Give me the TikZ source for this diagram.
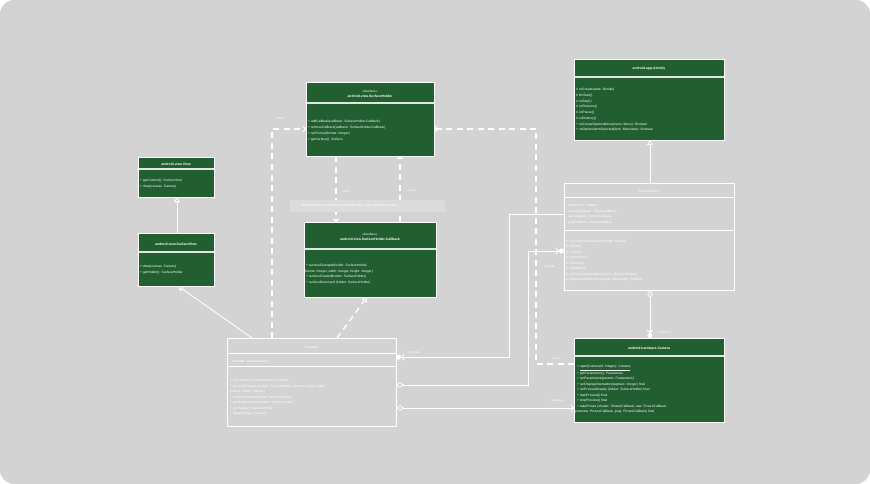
\documentclass[tikz,border=0pt]{standalone}
\usepackage{fontspec}
\setmainfont{Liberation Sans}
\usetikzlibrary{arrows.meta,calc}
\definecolor{bg}{HTML}{D3D3D3}
\definecolor{boxgreen}{HTML}{215F30}
\definecolor{notefill}{HTML}{DBDBDB}
\definecolor{divcol}{HTML}{E4E4E4}
\tikzset{
  classbox/.style={draw=white, line width=0.8pt, rectangle, inner sep=0pt, outer sep=0pt, anchor=north west},
  greenbox/.style={classbox, fill=boxgreen},
  graybox/.style={classbox, fill=bg},
  txt/.style={font=\fontsize{3.3}{4}\selectfont, text=white, inner sep=0pt, anchor=west},
  ttl/.style={font=\fontsize{3.4}{4}\selectfont\bfseries, text=white, inner sep=0pt, anchor=center},
  stereo/.style={font=\fontsize{3.1}{4}\selectfont, text=white, inner sep=0pt, anchor=center},
  lbl/.style={font=\fontsize{3.1}{4}\selectfont, text=white, inner sep=0pt, anchor=center},
  conn/.style={draw=white, line width=0.9pt},
  dconn/.style={draw=white, line width=1.3pt, dash pattern=on 6pt off 4.5pt},
  divider/.style={draw=divcol, line width=1.2pt},
  inh/.style={-{Triangle[open, fill=bg, length=5pt, width=6pt, line width=0.8pt]}},
  dep/.style={-{Straight Barb[length=2.5pt, width=6pt, line width=0.9pt]}},
  owndot/.style={-{Straight Barb[length=2.5pt, width=6pt, line width=0.9pt] Circle[length=5pt]}},
  aggdep/.style={{Diamond[open, fill=bg, length=8pt, width=5.5pt, line width=0.8pt]}-{Straight Barb[length=2.5pt, width=6pt, line width=0.9pt]}},
  aggdot/.style={{Diamond[open, fill=bg, length=8pt, width=5.5pt, line width=0.8pt]}-{Straight Barb[length=2.5pt, width=6pt, line width=0.9pt] Circle[length=5pt]}},
}
\begin{document}
\begin{tikzpicture}[x=1pt, y=-1pt]
\useasboundingbox (0,0) rectangle (870,484);
\fill[white] (0,0) rectangle (870,484);
\fill[bg, rounded corners=14pt] (0,0) rectangle (870,484);

% ---------- boxes ----------
\node[greenbox, minimum width=128pt, minimum height=74pt] (sh) at (306,82) {};
\node[greenbox, minimum width=76pt, minimum height=40pt] (view) at (138,157) {};
\node[greenbox, minimum width=76pt, minimum height=53pt] (sv) at (138,233) {};
\node[greenbox, minimum width=132pt, minimum height=75pt] (cb) at (304,222) {};
\node[graybox, minimum width=169pt, minimum height=88pt] (pv) at (227,338) {};
\node[greenbox, minimum width=150pt, minimum height=81pt] (act) at (574,59) {};
\node[graybox, minimum width=170pt, minimum height=107pt] (cd) at (564,183) {};
\node[greenbox, minimum width=150pt, minimum height=84pt] (cam) at (574,338) {};

% dividers
\draw[divider] (306.5,103) -- (433.5,103);
\draw[divider] (138.5,169) -- (213.5,169);
\draw[divider] (138.5,252) -- (213.5,252);
\draw[divider] (304.5,249) -- (435.5,249);
\draw[draw=white, line width=0.8pt] (227,353) -- (396,353);
\draw[draw=white, line width=0.8pt] (227,366) -- (396,366);
\draw[divider] (574.5,77) -- (723.5,77);
\draw[draw=white, line width=0.8pt] (564,197) -- (734,197);
\draw[draw=white, line width=0.8pt] (564,230) -- (734,230);
\draw[divider] (574.5,356) -- (723.5,356);

% ---------- texts ----------
% SurfaceHolder
\node[stereo] (sh-s) at (370,91) {«interface»};
\node[ttl] (sh-n) at (370,96) {android.view.SurfaceHolder};
\node[txt] (sh-1) at (308,122) {+ addCallback(callback: SurfaceHolder.Callback)};
\node[txt] (sh-2) at (308,128) {+ removeCallback(callback: SurfaceHolder.Callback)};
\node[txt] (sh-3) at (308,134) {+ setFormat(format: Integer)};
\node[txt] (sh-4) at (308,139.5) {+ getSurface(): Surface};
% View
\node[ttl] (view-n) at (176,164) {android.view.View};
\node[txt] (view-1) at (140,181) {+ getContext(): Context {final}};
\node[txt] (view-2) at (140,186.5) {+ draw(canvas: Canvas)};
% SurfaceView
\node[ttl] (sv-n) at (176,244) {android.view.SurfaceView};
\node[txt] (sv-1) at (140,267) {+ draw(canvas: Canvas)};
\node[txt] (sv-2) at (140,272.5) {+ getHolder(): SurfaceHolder};
% Callback
\node[stereo] (cb-s) at (370,234.5) {«interface»};
\node[ttl] (cb-n) at (370,239.5) {android.view.SurfaceHolder.Callback};
\node[txt] (cb-1) at (306,266) {+ surfaceChanged(holder: SurfaceHolder,};
\node[txt] (cb-2) at (305,271.5) {format: Integer, width: Integer, height: Integer)};
\node[txt] (cb-3) at (306,277) {+ surfaceCreated(holder: SurfaceHolder)};
\node[txt] (cb-4) at (306,282.5) {+ surfaceDestroyed (holder: SurfaceHolder)};
% Preview
\node[ttl, font=\fontsize{3.4}{4}\selectfont] (pv-n) at (311.5,347) {Preview};
\node[txt] (pv-a) at (230,361) {- mHolder: SurfaceHolder};
\node[txt] (pv-1) at (230,381) {+ constructor Preview(context: Context)};
\node[txt] (pv-2) at (230,386.5) {+ surfaceChanged (holder: SurfaceHolder, format: Integer, width:};
\node[txt] (pv-3) at (230,392) {Integer, height: Integer)};
\node[txt] (pv-4) at (230,397.5) {+ surfaceCreated (holder: SurfaceHolder)};
\node[txt] (pv-5) at (230,403) {+ surfaceDestroyed (holder: SurfaceHolder)};
\node[txt] (pv-6) at (230,408.5) {+ getHolder(): SurfaceHolder};
\node[txt] (pv-7) at (230,414) {+ draw(canvas: Canvas)};
% Activity
\node[ttl] (act-n) at (649,69) {android.app.Activity};
\node[txt] (act-1) at (576,90) {\# onCreate(state: Bundle)};
\node[txt] (act-2) at (576,95.7) {\# OnStart()};
\node[txt] (act-3) at (576,101.4) {\# onStop()};
\node[txt] (act-4) at (576,107.1) {\# onResume()};
\node[txt] (act-5) at (576,112.8) {\# onPause()};
\node[txt] (act-6) at (576,118.5) {\# onDestroy()};
\node[txt] (act-7) at (576,124.2) {+ onCreateOptionsMenu(menu: Menu): Boolean};
\node[txt] (act-8) at (576,129.9) {+ onOptionsItemSelected(item: MenuItem): Boolean};
% CameraDemo
\node[ttl, font=\fontsize{3.4}{4}\selectfont] (cd-n) at (649,191) {CameraDemo};
\node[txt] (cd-a1) at (566,205.5) {- buttonClick : Button};
\node[txt] (cd-a2) at (566,211.5) {- shutterCallback : ShutterCallback};
\node[txt] (cd-a3) at (566,217) {- rawCallback: pictureCallback};
\node[txt] (cd-a4) at (566,222.5) {- jpegCallback: pictureCallback};
\node[txt] (cd-1) at (566,241.5) {\# onCreate(savedInstanceState: Bundle)};
\node[txt] (cd-2) at (566,247) {\# onStart()};
\node[txt] (cd-3) at (566,252.5) {\# onStop()};
\node[txt] (cd-4) at (566,258) {\# onResume()};
\node[txt] (cd-5) at (566,263.5) {\# onPause()};
\node[txt] (cd-6) at (566,269) {\# onDestroy()};
\node[txt] (cd-7) at (566,274.5) {\# onCreateOptionsMenu(menu: Menu): Boolean};
\node[txt] (cd-8) at (566,280) {\# onOptionsItemSelected(item: MenuItem): Boolean};
% Camera
\node[ttl] (cam-n) at (649,348) {android.hardware.Camera};
\node[txt] (cam-1) at (577,368) {+ \underline{open(CameraId: Integer): Camera}};
\node[txt] (cam-2) at (577,373.5) {+ getParameters(): Parameters};
\node[txt] (cam-3) at (577,379) {+ setParameters(params: Parameters)};
\node[txt] (cam-4) at (577,384.5) {+ setDisplayOrientation(degrees: Integer) {final}};
\node[txt] (cam-5) at (577,390) {+ setPreviewDisplay (holder: SurfaceHolder) {final}};
\node[txt] (cam-6) at (577,395.5) {+ startPreview() {final}};
\node[txt] (cam-7) at (577,401) {+ stopPreview() {final}};
\node[txt] (cam-8) at (577,406.5) {+ takePicture (shutter: ShutterCallback, raw: PictureCallback,};
\node[txt] (cam-9) at (575,412) {postview: PictureCallback, jpeg: PictureCallback) {final}};

% ---------- connectors ----------
% inheritance
\draw[conn, inh] ($(pv.north west)+(25,0)$) -- ($(sv.south west)+(40,0)$);
\draw[conn, inh] ($(sv.north west)+(39,0)$) -- ($(view.south west)+(39,0)$);
\draw[conn, inh] ($(cd.north west)+(86,0)$) -- ($(act.south west)+(76,0)$);
% realization
\draw[dconn, inh] ($(pv.north west)+(110,0)$) -- ($(cb.south west)+(63,0)$);
% dependencies
\draw[dconn, dep] ($(pv.north west)+(45,0)$) |- ($(sh.north west)+(0,47)$);
\draw[dconn, dep] ($(sh.south west)+(30,0)$) -- ($(cb.north west)+(32,0)$);
\draw[dconn, dep] ($(cb.north west)+(96,0)$) -- ($(sh.south west)+(94,0)$);
\draw[dconn, dep] ($(cam.north west)+(0,26)$) -- ++(-38,0) |- ($(sh.north east)+(0,47)$);
% associations
\draw[conn, owndot] ($(cd.north west)+(0,31)$) -- ++(-55,0) |- ($(pv.north east)+(0,19)$);
\draw[conn, aggdot] ($(pv.north east)+(0,47)$) -- ++(132,0) |- ($(cd.north west)+(0,68)$);
\draw[conn, aggdep] ($(pv.north east)+(0,70)$) -- ($(cam.north west)+(0,70)$);
\draw[conn, aggdot] ($(cd.south west)+(86,0)$) -- ($(cam.north west)+(76,0)$);

% note
\node[fill=notefill, inner sep=0pt, outer sep=0pt, minimum width=155pt, minimum height=12pt, anchor=north west] (note) at (290,199.5) {};
\node[txt, text=white] (note-t) at (302,206) {Android Camera Application preview UML class diagram example};

% labels
\node[lbl] (l1) at (280,119) {«use»};
\node[lbl] (l2) at (346,192) {«use»};
\node[lbl] (l3) at (411,191) {«use»};
\node[lbl] (l4) at (557,359) {«use»};
\node[lbl] (l5) at (413,353) {+ preview};
\node[lbl] (l6) at (548,266.5) {+ context};
\node[lbl] (l7) at (556,401) {+ camera};
\node[lbl] (l8) at (664,333) {+ camera};
\end{tikzpicture}
\end{document}
